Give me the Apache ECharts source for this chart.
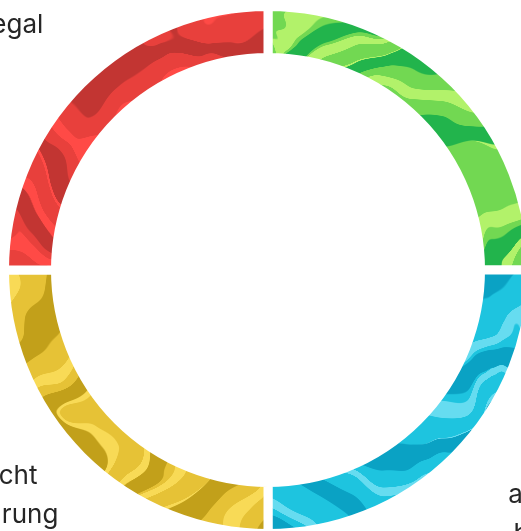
<!DOCTYPE html>
<html><head><meta charset="utf-8">
<script src="https://cdn.jsdelivr.net/npm/echarts@6/dist/echarts.min.js"></script>
<style>html,body{margin:0;padding:0;background:#fff;overflow:hidden}#main{width:521px;height:531px}</style>
</head><body><div id="main"></div>
<script>
// ---- data ----
const categories = ['Klima', 'aus Lust\nbedingt', 'Als Pflicht\nzu Ernährung\nwichtig', 'Ist mir egal'];
const values = [25, 25, 25, 25];
const palettes = [
  ['#b2f26a', '#72d852', '#22b44c'],
  ['#66dcf0', '#1ec4df', '#0aa2c4'],
  ['#f8da56', '#e6c236', '#c2a01a'],
  ['#ff4a46', '#e8403c', '#c23532']
];
const textureParams = [
  {fx: 0.050, fy: 0.045, k: 6, warp: 100, scale: 130, seed: 11},
  {fx: 0.012, fy: 0.090, k: 5, warp: 80, scale: 140, seed: 23},
  {fx: 0.095, fy: 0.012, k: 5, warp: 80, scale: 140, seed: 37},
  {fx: 0.020, fy: 0.075, k: 6, warp: 100, scale: 130, seed: 51}
];

// ---- procedural marble textures (style only) ----
function hash(x, y, s) {
  let h = (Math.imul(x, 374761393) + Math.imul(y, 668265263) + Math.imul(s, 982451653)) | 0;
  h = Math.imul(h ^ (h >>> 13), 1274126177);
  h = h ^ (h >>> 16);
  return (h >>> 0) / 4294967295;
}
function vnoise(x, y, s) {
  const xi = Math.floor(x), yi = Math.floor(y);
  const xf = x - xi, yf = y - yi;
  const u = xf * xf * (3 - 2 * xf), v = yf * yf * (3 - 2 * yf);
  const a = hash(xi, yi, s), b = hash(xi + 1, yi, s), c = hash(xi, yi + 1, s), d = hash(xi + 1, yi + 1, s);
  return a + (b - a) * u + (c - a) * v + (a - b - c + d) * u * v;
}
function turb(x, y, s) {
  let t = 0, amp = 1, f = 1, norm = 0;
  for (let o = 0; o < 3; o++) { t += amp * vnoise(x * f, y * f, s + o * 7); norm += amp; amp *= 0.45; f *= 2.1; }
  return t / norm;
}
function hex(h) { return [parseInt(h.slice(1, 3), 16), parseInt(h.slice(3, 5), 16), parseInt(h.slice(5, 7), 16)]; }
function smooth(e0, e1, x) { const t = Math.min(1, Math.max(0, (x - e0) / (e1 - e0))); return t * t * (3 - 2 * t); }
function marble(w, h, cols, p) {
  const cv = document.createElement('canvas'); cv.width = w; cv.height = h;
  const ctx = cv.getContext('2d'); const img = ctx.createImageData(w, h);
  const rgb = cols.map(hex);
  for (let y = 0; y < h; y++) for (let x = 0; x < w; x++) {
    const wx = turb(x / p.scale, y / p.scale, p.seed) - 0.5;
    const wy = turb(x / p.scale + 5.2, y / p.scale + 1.3, p.seed + 3) - 0.5;
    const X = x + p.warp * wx * 2, Y = y + p.warp * wy * 2;
    const t = turb(X / (p.scale * 0.7), Y / (p.scale * 0.7), p.seed + 9);
    const ph = X * p.fx + Y * p.fy + p.k * t;
    const dark = smooth(0.48, 0.58, Math.sin(ph));
    const light = smooth(0.55, 0.65, Math.sin(ph * 1.7 + 1.3 + 3 * wx));
    const i = (y * w + x) * 4;
    for (let c = 0; c < 3; c++) {
      const m = rgb[1][c] * (1 - light) + rgb[0][c] * light;
      img.data[i + c] = m * (1 - dark) + rgb[2][c] * dark;
    }
    img.data[i + 3] = 255;
  }
  ctx.putImageData(img, 0, 0);
  return cv;
}

const W = 521, H = 531, CX = 268, CY = 270, LX = 292, LY = 245;
const total = values.reduce((s, v) => s + v, 0);
const midAngles = [];
{ let cum = 0; values.forEach(v => { midAngles.push((90 - 360 * (cum + v / 2) / total) * Math.PI / 180); cum += v; }); }

const chart = echarts.init(document.getElementById('main'), null, {renderer: 'canvas'});
chart.setOption({
  animation: false,
  backgroundColor: '#ffffff',
  series: [{
    type: 'pie',
    center: [CX, CY],
    radius: [212.5, 263.5],
    startAngle: 90,
    clockwise: true,
    avoidLabelOverlap: false,
    data: categories.map((name, i) => ({
      name, value: values[i],
      itemStyle: {color: {image: marble(W, H, palettes[i], textureParams[i]), repeat: 'no-repeat'}}
    })),
    itemStyle: {borderColor: '#ffffff', borderWidth: 9},
    label: {
      show: true, position: 'outside', formatter: '{b}',
      width: 320, overflow: 'none', align: 'center',
      color: '#262626', fontFamily: 'Inter', fontSize: 26, lineHeight: 39
    },
    labelLine: {show: false},
    labelLayout: function (params) {
      const a = midAngles[params.dataIndex];
      return {
        x: CX + Math.sign(Math.cos(a)) * LX,
        y: CY - Math.sign(Math.sin(a)) * LY,
        align: 'center', verticalAlign: 'middle'
      };
    },
    emphasis: {disabled: true}
  }]
});
</script></body></html>
